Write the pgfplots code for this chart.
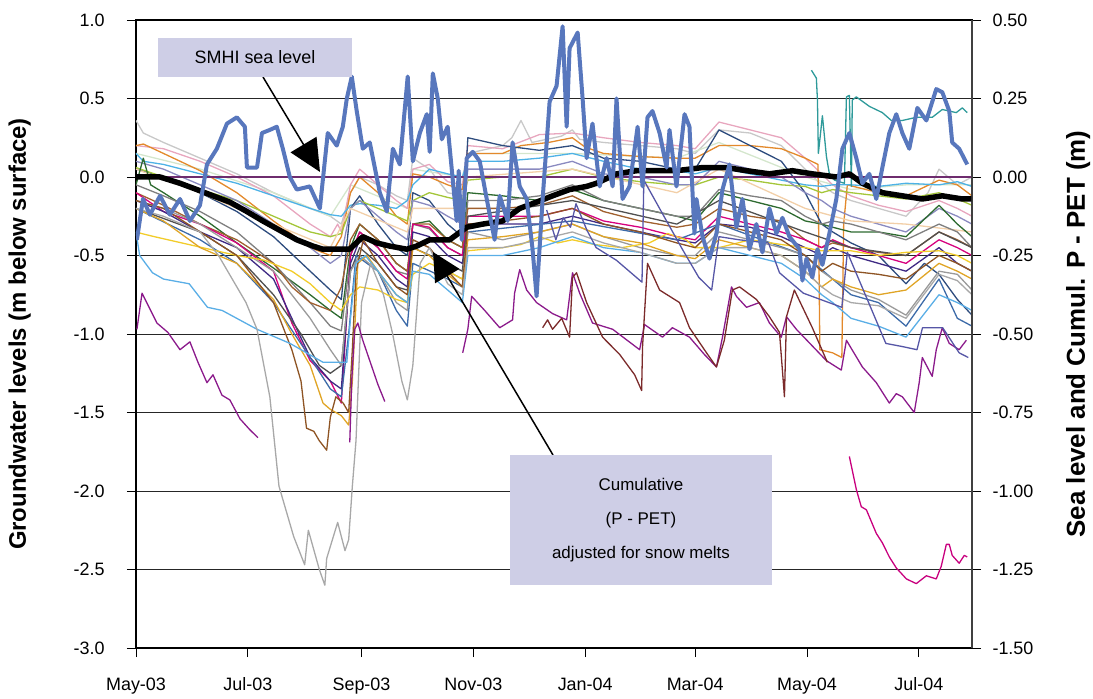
\documentclass[border=0pt]{standalone}
\usepackage{fontspec}
\setmainfont{Liberation Sans}
\usepackage{pgfplots}
\pgfplotsset{compat=1.18}
\usetikzlibrary{arrows.meta}
\definecolor{seablue}{RGB}{88,119,189}
\definecolor{lav}{RGB}{206,206,230}
\definecolor{zeroline}{RGB}{110,44,110}
\definecolor{clgray}{RGB}{200,200,200}
\definecolor{corange}{RGB}{227,137,43}
\definecolor{cpink}{RGB}{232,166,190}
\definecolor{csky}{RGB}{77,178,230}
\definecolor{cnavy}{RGB}{46,76,126}
\definecolor{clgreen}{RGB}{164,198,57}
\definecolor{cmint}{RGB}{212,230,204}
\definecolor{cdgreen}{RGB}{45,106,47}
\definecolor{cmagenta}{RGB}{214,0,126}
\definecolor{cindigo}{RGB}{63,42,132}
\definecolor{cbrown}{RGB}{160,96,46}
\definecolor{cdbrown}{RGB}{142,84,36}
\definecolor{cgold}{RGB}{224,165,38}
\definecolor{cyellow}{RGB}{242,204,42}
\definecolor{cgray}{RGB}{127,127,127}
\definecolor{cmgray}{RGB}{154,154,154}
\definecolor{cdive}{RGB}{168,168,168}
\definecolor{clblue}{RGB}{90,174,230}
\definecolor{clav}{RGB}{138,138,192}
\definecolor{cpeach}{RGB}{242,207,168}
\definecolor{cdkgray}{RGB}{80,80,80}
\definecolor{csteel}{RGB}{60,106,168}
\definecolor{cpurple}{RGB}{139,26,139}
\definecolor{cmaroon}{RGB}{123,42,42}
\definecolor{cslate}{RGB}{86,86,166}
\definecolor{cteal}{RGB}{46,154,154}
\definecolor{cmag2}{RGB}{200,0,126}
\begin{document}
\begin{tikzpicture}
\begin{axis}[name=main, scale only axis, width=836bp, height=628bp,
  xmin=0, xmax=456, ymin=-3, ymax=1,
  xtick={0,61,123,184,245,305,366,427},
  xticklabels={May-03,Jul-03,Sep-03,Nov-03,Jan-04,Mar-04,May-04,Jul-04},
  ytick={-3,-2.5,-2,-1.5,-1,-0.5,0,0.5,1},
  yticklabels={-3.0,-2.5,-2.0,-1.5,-1.0,-0.5,0.0,0.5,1.0},
  xtick pos=left, ytick pos=left, tick align=outside, major tick length=9bp,
  tick style={black, line width=0.9bp},
  ymajorgrids, grid style={black!85, line width=0.9bp},
  axis line style={black, line width=1.1bp},
  ticklabel style={font=\fontsize{18}{21}\selectfont},
  xticklabel style={yshift=-17bp},
  yticklabel style={xshift=-19bp},
  ylabel={Groundwater levels (m below surface)},
  ylabel style={at={(axis description cs:-0.139,0.5)}, anchor=center, font=\bfseries\fontsize{24}{28}\selectfont},
  every axis plot/.append style={line width=1.3bp, line join=round},
]
\addplot[clgray] coordinates {(0,0.36)(4,0.28)(15,0.22)(35,0.12)(55,0.02)(75,-0.1)(95,-0.2)(106,-0.25)(112,-0.3)(117,-0.1)(122,0.0)(132,-0.05)(142,-0.12)(148,-0.15)(151,0.12)(160,0.05)(170,-0.1)(178,-0.12)(181,0.15)(200,0.2)(205,0.25)(210,0.36)(216,0.22)(232,0.26)(238,0.3)(242,0.24)(255,0.22)(275,0.2)(295,0.18)(305,0.15)(318,0.3)(335,0.28)(352,0.2)(365,0.05)(374,-0.05)(380,-0.1)(390,-0.15)(405,-0.2)(420,-0.25)(432,-0.1)(438,0.05)(448,-0.05)(456,0.0)};
\addplot[cmint] coordinates {(0,0.15)(35,0.05)(75,-0.1)(106,-0.25)(117,-0.05)(148,-0.2)(151,0.05)(178,0.0)(181,0.15)(238,0.15)(295,0.12)(318,0.22)(365,0.0)(390,-0.08)(420,-0.05)(456,-0.05)};
\addplot[cpink] coordinates {(0,0.2)(15,0.18)(35,0.1)(55,0.0)(75,-0.12)(95,-0.3)(106,-0.38)(110,-0.3)(112,-0.35)(117,-0.05)(122,0.05)(132,-0.05)(142,-0.15)(148,-0.2)(151,0.05)(160,0.08)(170,-0.03)(178,-0.05)(181,0.2)(200,0.18)(220,0.27)(238,0.28)(255,0.25)(275,0.22)(295,0.2)(305,0.18)(318,0.35)(335,0.3)(352,0.25)(365,0.12)(374,0.02)(380,-0.05)(390,-0.12)(405,-0.18)(420,-0.22)(438,-0.15)(448,-0.2)(456,-0.25)};
\addplot[corange] coordinates {(0,0.2)(4,0.21)(15,0.15)(35,0.04)(55,-0.1)(75,-0.28)(95,-0.45)(106,-0.5)(112,-0.38)(117,-0.1)(122,0.0)(132,-0.1)(142,-0.25)(148,-0.3)(151,0.02)(160,0.0)(170,-0.05)(178,-0.08)(181,0.15)(200,0.15)(210,0.2)(225,0.22)(238,0.25)(245,0.19)(255,0.15)(275,0.13)(295,0.12)(305,0.12)(318,0.2)(335,0.2)(352,0.18)(365,0.12)(372,0.08)(373,-1.1)(380,-1.12)(385,-1.15)(386,-0.3)(388,-0.05)(405,-0.1)(420,-0.12)(438,-0.02)(448,-0.05)(456,-0.12)};
\addplot[csky] coordinates {(0,0.15)(4,0.1)(15,0.08)(35,0.02)(55,-0.04)(75,-0.12)(95,-0.2)(106,-0.24)(112,-0.25)(117,-0.18)(122,-0.17)(132,-0.18)(142,-0.2)(148,-0.15)(151,-0.05)(160,0.05)(170,0.02)(178,0.0)(181,0.1)(200,0.1)(220,0.12)(238,0.15)(255,0.1)(275,0.05)(295,0.04)(305,0.02)(318,0.06)(335,0.02)(352,-0.02)(365,-0.05)(374,-0.06)(380,-0.05)(390,-0.05)(405,-0.06)(420,-0.04)(438,-0.05)(448,-0.03)(456,-0.06)};
\addplot[cnavy] coordinates {(0,0.05)(15,0.0)(35,-0.1)(55,-0.22)(75,-0.38)(95,-0.6)(106,-0.72)(112,-0.78)(117,-0.2)(122,-0.12)(132,-0.3)(142,-0.45)(148,-0.5)(151,-0.1)(160,-0.15)(170,-0.3)(178,-0.38)(181,0.25)(200,0.2)(220,0.17)(238,0.2)(255,0.12)(275,0.1)(295,0.05)(305,0.05)(318,0.3)(335,0.2)(352,0.1)(365,-0.1)(374,-0.3)(380,-0.35)(390,-0.42)(405,-0.5)(420,-0.68)(430,-0.55)(438,-0.62)(448,-0.78)(456,-0.88)};
\addplot[clgreen] coordinates {(0,0.06)(15,0.0)(35,-0.08)(55,-0.15)(75,-0.25)(95,-0.35)(106,-0.38)(112,-0.36)(117,-0.2)(122,-0.15)(132,-0.2)(142,-0.25)(148,-0.28)(151,-0.15)(160,-0.1)(170,-0.13)(178,-0.15)(181,-0.02)(200,0.0)(220,0.0)(238,0.05)(255,0.0)(275,-0.03)(295,-0.05)(305,-0.05)(318,0.0)(335,-0.02)(352,-0.05)(365,-0.06)(374,-0.1)(380,-0.08)(390,-0.1)(405,-0.12)(420,-0.14)(438,-0.1)(448,-0.14)(456,-0.18)};
\addplot[clav] coordinates {(0,0.1)(15,0.05)(35,-0.05)(55,-0.15)(75,-0.3)(95,-0.45)(106,-0.55)(112,-0.5)(117,-0.2)(122,-0.15)(132,-0.25)(142,-0.35)(148,-0.4)(151,-0.15)(160,-0.18)(170,-0.25)(178,-0.3)(181,0.05)(200,0.05)(220,0.05)(238,0.1)(255,0.02)(275,0.0)(295,-0.05)(305,-0.05)(318,0.1)(335,0.05)(352,0.0)(365,-0.1)(374,-0.15)(380,-0.2)(390,-0.25)(405,-0.3)(420,-0.35)(438,-0.2)(448,-0.25)(456,-0.3)};
\addplot[cpeach] coordinates {(0,0.05)(35,-0.1)(75,-0.3)(106,-0.45)(117,-0.2)(148,-0.35)(151,-0.2)(178,-0.2)(181,0.0)(238,0.05)(295,-0.1)(318,0.05)(365,-0.2)(390,-0.28)(420,-0.3)(456,-0.35)};
\addplot[cdgreen] coordinates {(0,-0.05)(4,0.12)(8,-0.05)(15,-0.1)(35,-0.25)(55,-0.42)(75,-0.58)(95,-0.75)(106,-0.85)(112,-0.9)(117,-0.45)(122,-0.3)(132,-0.4)(142,-0.55)(148,-0.6)(151,-0.3)(160,-0.28)(170,-0.4)(178,-0.45)(181,-0.1)(200,-0.12)(220,-0.15)(238,-0.08)(255,-0.15)(275,-0.2)(295,-0.25)(305,-0.28)(318,-0.1)(335,-0.15)(352,-0.2)(365,-0.28)(374,-0.3)(380,-0.32)(390,-0.35)(405,-0.35)(420,-0.38)(438,-0.18)(448,-0.3)(456,-0.38)};
\addplot[cgray] coordinates {(0,-0.05)(15,-0.12)(35,-0.22)(55,-0.35)(75,-0.55)(95,-0.8)(106,-0.95)(112,-0.98)(117,-0.5)(122,-0.35)(132,-0.45)(142,-0.6)(148,-0.62)(151,-0.3)(160,-0.33)(170,-0.45)(178,-0.5)(181,-0.15)(200,-0.15)(220,-0.12)(238,-0.05)(255,-0.15)(275,-0.2)(295,-0.25)(305,-0.25)(318,-0.08)(335,-0.12)(352,-0.15)(365,-0.25)(374,-0.3)(380,-0.28)(390,-0.3)(405,-0.35)(420,-0.4)(438,-0.3)(448,-0.35)(456,-0.45)};
\addplot[cbrown] coordinates {(0,-0.1)(15,-0.18)(35,-0.3)(55,-0.4)(75,-0.55)(85,-0.7)(95,-0.8)(106,-0.85)(112,-0.7)(117,-0.4)(122,-0.3)(132,-0.4)(142,-0.55)(148,-0.6)(151,-0.3)(160,-0.3)(170,-0.4)(178,-0.45)(181,-0.2)(200,-0.2)(220,-0.18)(238,-0.12)(255,-0.22)(275,-0.28)(295,-0.32)(305,-0.3)(318,-0.2)(335,-0.25)(352,-0.28)(365,-0.4)(374,-0.45)(380,-0.42)(390,-0.45)(405,-0.48)(420,-0.5)(438,-0.35)(448,-0.4)(456,-0.45)};
\addplot[cmagenta] coordinates {(0,-0.1)(15,-0.22)(35,-0.3)(55,-0.42)(75,-0.6)(85,-0.93)(95,-1.17)(106,-1.3)(112,-1.44)(117,-0.5)(122,-0.35)(132,-0.45)(142,-0.6)(148,-0.65)(151,-0.3)(160,-0.32)(170,-0.45)(178,-0.5)(181,-0.25)(200,-0.25)(220,-0.25)(238,-0.2)(255,-0.28)(275,-0.32)(295,-0.38)(305,-0.4)(318,-0.25)(335,-0.3)(352,-0.35)(365,-0.4)(374,-0.45)(380,-0.4)(390,-0.45)(405,-0.5)(420,-0.55)(438,-0.4)(448,-0.45)(456,-0.5)};
\addplot[cindigo] coordinates {(0,-0.15)(15,-0.22)(35,-0.35)(55,-0.45)(75,-0.65)(85,-0.9)(95,-1.15)(106,-1.3)(112,-1.35)(117,-0.55)(122,-0.4)(132,-0.5)(142,-0.65)(148,-0.7)(151,-0.35)(160,-0.38)(170,-0.5)(178,-0.55)(181,-0.3)(200,-0.3)(220,-0.3)(238,-0.25)(255,-0.3)(275,-0.35)(295,-0.4)(305,-0.42)(318,-0.3)(335,-0.32)(352,-0.38)(365,-0.45)(374,-0.5)(380,-0.45)(390,-0.5)(405,-0.55)(420,-0.6)(438,-0.45)(448,-0.55)(456,-0.6)};
\addplot[cdkgray] coordinates {(0,-0.2)(35,-0.35)(55,-0.5)(75,-0.75)(90,-1.0)(100,-1.2)(106,-1.25)(112,-1.2)(117,-0.6)(122,-0.45)(132,-0.55)(142,-0.7)(148,-0.72)(151,-0.45)(170,-0.55)(178,-0.6)(181,-0.25)(238,-0.15)(295,-0.3)(318,-0.15)(365,-0.35)(390,-0.45)(420,-0.5)(438,-0.35)(456,-0.45)};
\addplot[csteel] coordinates {(0,-0.2)(35,-0.4)(55,-0.55)(75,-0.8)(95,-1.15)(106,-1.35)(112,-1.4)(116,-1.0)(120,-0.5)(132,-0.6)(142,-0.85)(148,-0.95)(151,-0.55)(170,-0.65)(178,-0.7)(181,-0.35)(238,-0.28)(295,-0.4)(318,-0.3)(365,-0.5)(390,-0.75)(405,-0.8)(420,-0.95)(438,-0.65)(448,-0.9)(456,-0.95)};
\addplot[cmgray] coordinates {(0,-0.15)(15,-0.2)(35,-0.3)(55,-0.45)(75,-0.6)(95,-0.9)(106,-1.1)(112,-1.2)(117,-0.6)(122,-0.5)(132,-0.6)(142,-0.8)(148,-0.85)(151,-0.4)(160,-0.45)(170,-0.6)(178,-0.65)(181,-0.35)(200,-0.4)(220,-0.35)(238,-0.3)(255,-0.38)(275,-0.45)(295,-0.5)(305,-0.5)(318,-0.35)(335,-0.4)(352,-0.45)(365,-0.5)(374,-0.6)(380,-0.65)(390,-0.72)(405,-0.78)(420,-0.88)(438,-0.6)(448,-0.62)(456,-0.72)};
\addplot[cyellow] coordinates {(0,-0.35)(3,-0.36)(10,-0.38)(25,-0.42)(40,-0.46)(55,-0.5)(70,-0.53)(85,-0.6)(95,-0.68)(106,-0.8)(112,-0.85)(117,-0.75)(122,-0.7)(132,-0.72)(142,-0.78)(148,-0.8)(151,-0.62)(160,-0.55)(170,-0.6)(178,-0.65)(181,-0.47)(190,-0.46)(200,-0.45)(210,-0.43)(220,-0.38)(230,-0.42)(238,-0.4)(250,-0.43)(265,-0.45)(280,-0.42)(290,-0.36)(300,-0.4)(305,-0.45)(318,-0.45)(335,-0.4)(352,-0.43)(365,-0.45)(374,-0.47)(380,-0.47)(390,-0.47)(405,-0.5)(420,-0.48)(438,-0.47)(448,-0.5)(456,-0.55)};
\addplot[cgold] coordinates {(0,-0.2)(15,-0.28)(35,-0.45)(55,-0.55)(75,-0.78)(85,-1.0)(95,-1.2)(102,-1.44)(106,-1.48)(112,-1.52)(116,-1.58)(118,-1.3)(121,-0.55)(126,-0.5)(132,-0.6)(142,-0.75)(148,-0.8)(151,-0.45)(160,-0.5)(170,-0.62)(178,-0.7)(181,-0.4)(200,-0.38)(220,-0.35)(238,-0.3)(255,-0.38)(275,-0.42)(295,-0.5)(305,-0.52)(318,-0.4)(335,-0.45)(352,-0.5)(365,-0.6)(374,-0.7)(380,-0.65)(390,-0.7)(405,-0.75)(420,-0.72)(438,-0.55)(448,-0.6)(456,-0.65)};
\addplot[cdbrown] coordinates {(0,-0.15)(15,-0.2)(35,-0.35)(55,-0.5)(75,-0.8)(85,-1.1)(90,-1.3)(93,-1.6)(97,-1.62)(100,-1.68)(104,-1.74)(106,-1.53)(109,-1.4)(113,-1.44)(116,-1.5)(118,-1.1)(120,-0.6)(124,-0.4)(132,-0.55)(142,-0.7)(148,-0.75)(151,-0.4)(160,-0.45)(170,-0.6)(178,-0.7)(181,-0.3)(200,-0.28)(220,-0.25)(238,-0.2)(255,-0.3)(275,-0.35)(295,-0.42)(305,-0.45)(318,-0.3)(335,-0.35)(352,-0.4)(365,-0.5)(374,-0.6)(380,-0.55)(390,-0.6)(405,-0.62)(420,-0.65)(438,-0.5)(448,-0.55)(456,-0.6)};
\addplot[clblue] coordinates {(0,-0.35)(2,-0.5)(9,-0.61)(15,-0.65)(29,-0.68)(39,-0.83)(47,-0.85)(66,-0.97)(84,-1.06)(102,-1.18)(112,-1.18)(115,-1.18)(117,-0.9)(120,-0.55)(125,-0.5)(132,-0.6)(142,-0.75)(148,-0.8)(151,-0.6)(160,-0.62)(170,-0.72)(178,-0.8)(181,-0.5)(200,-0.5)(220,-0.45)(238,-0.38)(255,-0.45)(275,-0.48)(295,-0.55)(305,-0.55)(318,-0.45)(335,-0.5)(352,-0.55)(365,-0.65)(374,-0.75)(380,-0.8)(390,-0.9)(405,-0.95)(420,-1.02)(438,-0.75)(448,-0.8)(456,-0.85)};
\addplot[cdive] coordinates {(0,-0.2)(15,-0.25)(35,-0.35)(45,-0.5)(53,-0.66)(60,-0.8)(66,-0.97)(73,-1.4)(78,-1.97)(86,-2.29)(92,-2.47)(94,-2.25)(100,-2.5)(103,-2.6)(104,-2.43)(110,-2.2)(114,-2.38)(116,-2.31)(118,-1.97)(120,-1.68)(123,-0.8)(128,-0.55)(135,-0.75)(140,-1.0)(145,-1.3)(148,-1.42)(151,-1.2)(155,-0.55)(160,-0.45)(170,-0.68)(178,-0.75)(181,-0.45)(200,-0.45)(220,-0.4)(238,-0.35)(255,-0.42)(275,-0.48)(295,-0.55)(305,-0.55)(318,-0.45)(335,-0.45)(352,-0.5)(365,-0.6)(374,-0.7)(380,-0.75)(390,-0.8)(405,-0.82)(420,-0.9)(438,-0.62)(448,-0.66)(456,-0.75)};
\addplot[cpurple] coordinates {(0.5,-0.97)(3.3,-0.74)(11.4,-0.93)(17.4,-0.99)(24,-1.10)(29.4,-1.05)(33.8,-1.18)(38.7,-1.31)(42,-1.26)(46.9,-1.39)(51.2,-1.42)(56.7,-1.54)(62.1,-1.61)(66.5,-1.66)};
\addplot[cpurple] coordinates {(116.6,-1.69)(117.7,-1.29)(119.3,-0.97)(121,-0.93)(123.7,-1.04)(127.5,-1.17)(131.9,-1.32)(135.7,-1.43)};
\addplot[cpurple] coordinates {(178.2,-1.12)(181,-0.97)(183.1,-0.76)(190.2,-0.85)(198.4,-0.96)(205.4,-0.91)(206.5,-0.74)(209.3,-0.59)(213.1,-0.72)(218.5,-0.80)(227.2,-0.87)(234.9,-0.91)(238.1,-0.61)(242,-0.74)(249,-0.93)(260,-0.97)(274.7,-1.10)(277.4,-0.94)(287.2,-1.02)(292.6,-0.96)(301.9,-1.02)(310,-1.13)(316.6,-1.21)(319.9,-1.02)(324.8,-0.70)(327.5,-0.76)(333,-0.83)(340,-0.80)(345.5,-0.93)(352,-1.02)(354.8,-0.89)(360.2,-0.97)(376.6,-1.17)(384.7,-1.23)(387.5,-1.04)(396.2,-1.21)(403.8,-1.31)(410.9,-1.44)(414.7,-1.38)(418,-1.40)(424.5,-1.50)(427.2,-1.31)(428.9,-1.15)(434.3,-1.27)(436.5,-1.10)(439.8,-0.96)(443.6,-1.06)(449,-1.10)(452.9,-1.04)};
\addplot[cmaroon] coordinates {(221.8,-0.96)(224.5,-0.91)(227.2,-0.97)(232.2,-0.90)(236.5,-1.02)(238.1,-0.64)(240.3,-0.61)(245.8,-0.80)(254.5,-1.02)(263.8,-1.13)(272,-1.26)(275.8,-1.36)(276.3,-1.08)(279,-0.55)(285.6,-0.72)(296.5,-0.80)(301.9,-0.96)(311.2,-1.12)(316.6,-1.21)(320.9,-1.04)(325.3,-0.72)(329.2,-0.70)(338.4,-0.78)(345.5,-0.89)(351,-0.99)(353.7,-1.40)(354.8,-0.89)(359.1,-0.72)(368.9,-0.96)(377.1,-1.18)};
\addplot[cslate] coordinates {(224,-0.21)(229,-0.40)(233,-0.26)(237,-0.32)(240,-0.17)(246,-0.34)(251,-0.45)(262,-0.53)(275,-0.66)(276,-0.67)(277,-0.02)(287,-0.23)(298,-0.46)(307,-0.64)(314,-0.72)(318,-0.38)(329,-0.40)(345,-0.42)(351,-0.61)(364,-0.74)(385,-0.83)(388,-0.48)(396,-0.70)(409,-1.06)(418,-1.08)(426,-1.10)(429,-0.96)(440,-0.96)(449,-1.12)(454,-1.15)};
\addplot[cmag2] coordinates {(389.1,-1.78)(392.9,-1.99)(395.6,-2.10)(398.4,-2.12)(403.8,-2.27)(407.1,-2.33)(410.9,-2.42)(414.7,-2.49)(420.2,-2.56)(425.6,-2.59)(431.1,-2.54)(436.5,-2.56)(439.2,-2.48)(442,-2.34)(443.6,-2.34)(445.2,-2.41)(449,-2.46)(451.8,-2.41)(453.4,-2.42)};
\addplot[cteal] coordinates {(368.4,0.68)(371.1,0.63)(371.7,0.49)(372.2,0.15)(374.4,0.39)(376.6,0.13)(378.2,0.02)(381,-0.02)(386.4,-0.04)(387.5,0.51)(389.1,0.52)(390.2,-0.06)(390.7,0.49)(392.9,0.51)(400,0.45)(407.1,0.41)(412,0.36)(418,0.36)(425.6,0.38)(434.3,0.38)(439.8,0.43)(447.4,0.41)(450.7,0.44)(453.4,0.41)};
\addplot[zeroline, line width=1.6bp] coordinates {(0,0)(456,0)};
\end{axis}
\begin{axis}[scale only axis, width=836bp, height=628bp, at={(main.south west)}, anchor=south west,
  xmin=0, xmax=456, ymin=-1.5, ymax=0.5,
  axis y line*=right, axis x line=none,
  ytick={-1.5,-1.25,-1,-0.75,-0.5,-0.25,0,0.25,0.5},
  yticklabels={-1.50,-1.25,-1.00,-0.75,-0.50,-0.25,0.00,0.25,0.50},
  tick align=outside, major tick length=9bp, tick style={black, line width=0.9bp},
  axis line style={black!75, line width=2.6bp},
  ticklabel style={font=\fontsize{18}{21}\selectfont},
  yticklabel style={xshift=8bp},
  ylabel={Sea level and Cumul. P - PET (m)},
  ylabel style={at={(axis description cs:1.127,0.5)}, anchor=center, font=\bfseries\fontsize{26}{30}\selectfont},
]
\addplot[black, line width=5.5bp, line join=round] coordinates {(0,0.00)(13.1,0.00)(24,-0.02)(33.2,-0.04)(42,-0.06)(51.2,-0.08)(60.5,-0.11)(69.2,-0.14)(78.5,-0.17)(87.7,-0.20)(96.5,-0.22)(101.9,-0.23)(109.5,-0.23)(116.6,-0.23)(123.7,-0.19)(131.3,-0.21)(138.4,-0.22)(147.7,-0.23)(153.1,-0.22)(160.2,-0.20)(171.1,-0.20)(180.4,-0.16)(189.1,-0.15)(200,-0.14)(209.3,-0.10)(218.5,-0.08)(227.2,-0.06)(236.5,-0.04)(245.8,-0.03)(251.2,-0.02)(262.1,0.01)(273,0.02)(283.9,0.02)(294.8,0.02)(309,0.03)(322.1,0.03)(333,0.02)(345.5,0.01)(358,0.02)(368.9,0.01)(382,0.00)(389.1,0.01)(396.2,-0.02)(407.1,-0.05)(418,-0.06)(428.9,-0.07)(439.8,-0.06)(450.7,-0.07)(455.6,-0.07)};
\addplot[seablue, line width=4bp, line join=round] coordinates {(0.5,-0.20)(3.8,-0.07)(7.6,-0.12)(13.1,-0.06)(18.5,-0.12)(24,-0.07)(29.4,-0.14)(34.9,-0.09)(38.7,0.04)(44.1,0.09)(49.6,0.17)(55,0.19)(59.4,0.16)(60.5,0.03)(66,0.03)(68.7,0.14)(73,0.15)(76.8,0.16)(80.1,0.09)(83.9,0.00)(87.7,-0.04)(94.8,-0.03)(100.3,-0.10)(101.9,-0.01)(104.6,0.14)(109.5,0.10)(112.8,0.16)(115,0.25)(117.7,0.32)(120.4,0.21)(123.7,0.09)(127.5,0.11)(133,-0.05)(136.8,-0.11)(140.1,0.09)(143.9,0.04)(148.2,0.32)(151,0.05)(154.8,0.14)(158.6,0.20)(160.2,0.08)(161.9,0.33)(164.6,0.25)(166.8,0.12)(170,0.16)(172.8,-0.01)(174.9,-0.14)(176,0.02)(177.7,-0.20)(180.4,0.06)(183.7,0.08)(187.5,0.05)(191.3,-0.07)(195.6,-0.20)(198.4,-0.06)(202.7,-0.14)(205.4,0.11)(209.3,-0.03)(213.1,-0.07)(216.3,-0.23)(218.5,-0.38)(221.8,-0.07)(225.6,0.24)(229.4,0.29)(232.7,0.48)(234.9,0.16)(236.5,0.41)(240.9,0.46)(243.6,0.25)(245.8,0.06)(249,0.17)(252.9,-0.03)(256.7,0.06)(260,-0.03)(262.1,0.25)(265.4,-0.07)(269.2,-0.03)(273.6,0.16)(276.3,-0.03)(279,0.19)(281.7,0.21)(285.6,0.14)(289.4,0.03)(291,0.15)(294.8,-0.03)(299.2,0.20)(301.9,0.16)(304.6,-0.18)(305.7,-0.07)(309,-0.19)(312.8,-0.26)(316.6,-0.18)(319.9,-0.04)(323.7,0.04)(327.5,-0.16)(330.8,-0.07)(334.6,-0.23)(338.4,-0.15)(341.7,-0.24)(345.5,-0.10)(349.3,-0.18)(352.6,-0.13)(356.4,-0.19)(361.9,-0.23)(363.5,-0.33)(365.7,-0.26)(368.9,-0.32)(371.7,-0.23)(374.4,-0.28)(378.2,-0.18)(382,-0.07)(385.3,0.09)(389.1,0.14)(392.9,0.06)(396.2,-0.02)(400,0.01)(403.8,-0.07)(407.1,0.03)(410.9,0.14)(414.7,0.20)(418,0.14)(421.8,0.09)(426.2,0.22)(431.1,0.18)(436.5,0.28)(439.8,0.27)(443.6,0.21)(445.2,0.11)(449,0.09)(453.4,0.04)};
\end{axis}
\begin{scope}[shift={(main.north west)}, x=1bp, y=-1bp]
  \draw[black, line width=1.5bp, -{Triangle[length=32bp,width=30bp]}] (127,57) -- (184,152);
  \node[fill=lav, minimum width=194bp, minimum height=39bp, inner sep=0pt, font=\fontsize{18}{21}\selectfont] at (119,37.5) {SMHI sea level};
  \draw[black, line width=1.5bp, -{Triangle[length=28bp,width=28bp]}] (417,435) -- (297,232);
  \node[fill=lav, minimum width=262bp, minimum height=130bp, inner sep=0pt, align=center, font=\fontsize{17}{34}\selectfont] at (505,500) {Cumulative\\(P - PET)\\adjusted for snow melts};
\end{scope}
\pgfresetboundingbox
\path ([xshift=-136bp,yshift=-51bp]main.south west) rectangle ([xshift=121bp,yshift=20bp]main.north east);
\end{tikzpicture}
\end{document}
